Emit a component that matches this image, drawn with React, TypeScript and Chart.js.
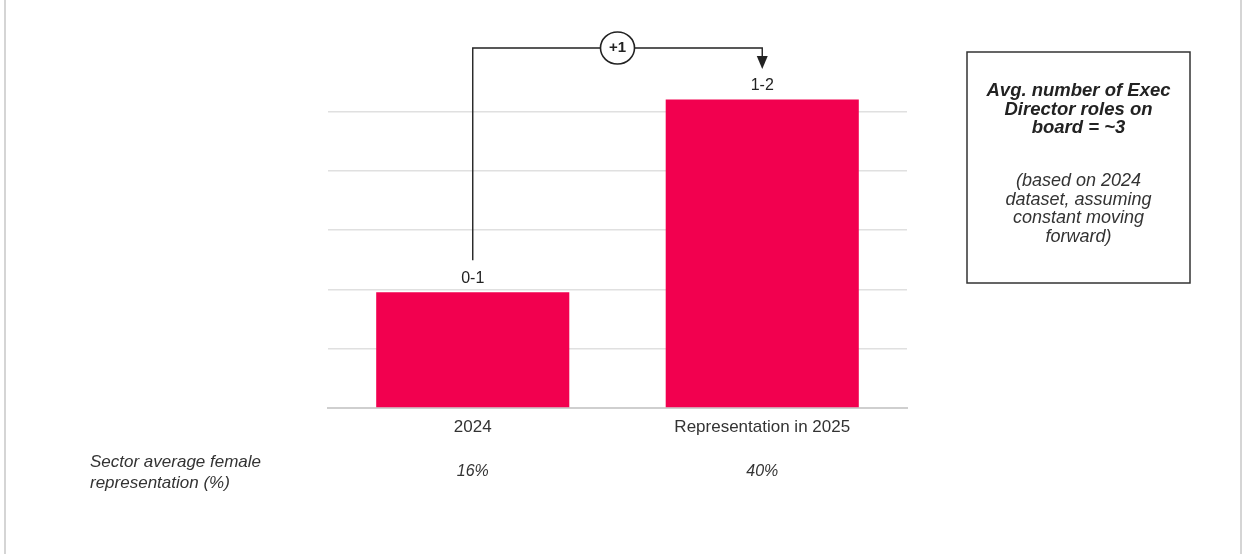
import React, { useEffect, useRef } from "react";
import { Chart, registerables } from "chart.js";

Chart.register(...registerables);

const categories = ["2024", "Representation in 2025"];
const barValues = [1.95, 5.2];
const barLabels = ["0-1", "1-2"];
const sectorAverage = ["16%", "40%"];
const sectorRowLabel = ["Sector average female", "representation (%)"];
const changeLabel = "+1";
const boxTitle = ["Avg. number of Exec", "Director roles on", "board = ~3"];
const boxNote = ["(based on 2024", "dataset, assuming", "constant moving", "forward)"];

const FONT = "'Liberation Sans', Arial, sans-serif";

const overlay = {
  id: "overlay",
  afterDraw(chart: any) {
    const ctx = chart.ctx as CanvasRenderingContext2D;
    const meta = chart.getDatasetMeta(0);
    const xs = chart.scales.x;
    ctx.save();
    // frame lines
    ctx.strokeStyle = "#c8c8c8";
    ctx.lineWidth = 1.5;
    ctx.beginPath();
    ctx.moveTo(5, 0);
    ctx.lineTo(5, chart.height);
    ctx.moveTo(1241, 0);
    ctx.lineTo(1241, chart.height);
    ctx.stroke();

    // bar value labels
    ctx.fillStyle = "#222";
    ctx.font = `16px ${FONT}`;
    ctx.textAlign = "center";
    ctx.textBaseline = "middle";
    meta.data.forEach((bar: any, i: number) => {
      ctx.fillText(barLabels[i], bar.x, bar.y - 14);
    });

    // connector arrow
    const b0 = meta.data[0];
    const b1 = meta.data[1];
    const lineY = 48;
    ctx.strokeStyle = "#222";
    ctx.lineWidth = 1.4;
    ctx.beginPath();
    ctx.moveTo(b0.x, b0.y - 32);
    ctx.lineTo(b0.x, lineY);
    ctx.lineTo(b1.x, lineY);
    ctx.lineTo(b1.x, lineY + 10);
    ctx.stroke();
    ctx.fillStyle = "#222";
    ctx.beginPath();
    ctx.moveTo(b1.x - 5.5, lineY + 8);
    ctx.lineTo(b1.x + 5.5, lineY + 8);
    ctx.lineTo(b1.x, lineY + 21);
    ctx.closePath();
    ctx.fill();

    // circle with +1
    const cx = (b0.x + b1.x) / 2;
    ctx.fillStyle = "#fff";
    ctx.beginPath();
    ctx.ellipse(cx, lineY, 17, 16, 0, 0, Math.PI * 2);
    ctx.fill();
    ctx.lineWidth = 1.6;
    ctx.stroke();
    ctx.fillStyle = "#222";
    ctx.font = `bold 15px ${FONT}`;
    ctx.fillText(changeLabel, cx, lineY);

    // sector average row
    ctx.font = `italic 16px ${FONT}`;
    ctx.fillStyle = "#333";
    sectorAverage.forEach((t, i) => {
      ctx.fillText(t, xs.getPixelForValue(i), 472);
    });
    ctx.textAlign = "left";
    ctx.font = `italic 17px ${FONT}`;
    sectorRowLabel.forEach((t, i) => {
      ctx.fillText(t, 90, 462 + i * 21);
    });

    // annotation box
    ctx.strokeStyle = "#333";
    ctx.lineWidth = 1.5;
    ctx.strokeRect(967, 52, 223, 231);
    ctx.textAlign = "center";
    const bx = 967 + 223 / 2;
    ctx.fillStyle = "#222";
    ctx.font = `italic bold 18.5px ${FONT}`;
    boxTitle.forEach((t, i) => ctx.fillText(t, bx, 91 + i * 18.5));
    ctx.fillStyle = "#333";
    ctx.font = `italic 18px ${FONT}`;
    boxNote.forEach((t, i) => ctx.fillText(t, bx, 181 + i * 18.5));
    ctx.restore();
  },
};

export default function App() {
  const ref = useRef<HTMLCanvasElement>(null);
  useEffect(() => {
    document.body.style.margin = "0";
    const chart = new Chart(ref.current!, {
      type: "bar",
      data: {
        labels: categories,
        datasets: [
          {
            data: barValues,
            backgroundColor: "#f2004f",
            categoryPercentage: 1,
            barPercentage: 0.667,
          },
        ],
      },
      options: {
        animation: false,
        responsive: false,
        maintainAspectRatio: false,
        layout: { padding: { left: 328, right: 348, top: 52, bottom: 116 } },
        plugins: { legend: { display: false }, tooltip: { enabled: false } },
        scales: {
          x: {
            grid: { display: false },
            border: { display: true, color: "#cfcfcf", width: 2 },
            ticks: { font: { size: 17, family: FONT }, color: "#333", padding: 1 },
            afterFit: (s: any) => {
              s.height = 30;
            },
          },
          y: {
            min: 0,
            max: 6,
            ticks: { display: false, stepSize: 1 },
            border: { display: false },
            grid: {
              drawTicks: false,
              lineWidth: 1.5,
              color: (c: any) => (c.tick && c.tick.value === 6 ? "rgba(0,0,0,0)" : "#e0e0e0"),
            },
            afterFit: (s: any) => {
              s.width = 0;
            },
          },
        },
      },
      plugins: [overlay],
    });
    return () => chart.destroy();
  }, []);
  return <canvas ref={ref} width={1255} height={554} style={{ display: "block" }} />;
}
